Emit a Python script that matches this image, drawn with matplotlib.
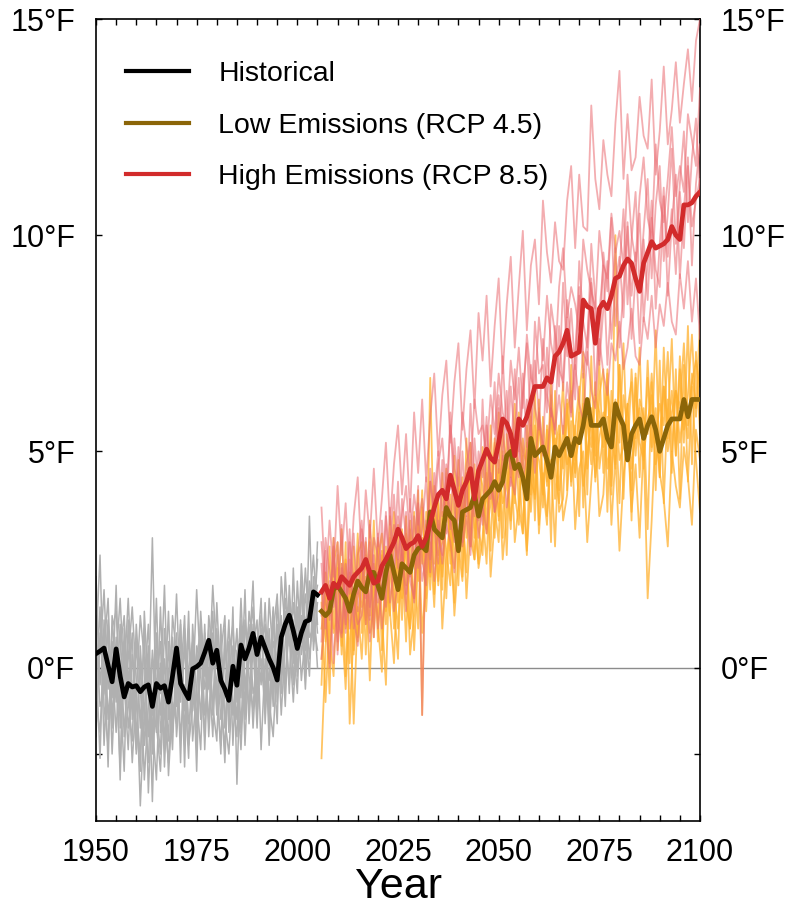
import numpy as np
import matplotlib
matplotlib.use("Agg")
import matplotlib.pyplot as plt
from matplotlib.ticker import MultipleLocator

plt.rcParams['font.family'] = ['Liberation Sans', 'DejaVu Sans']

hist_start = 1950
fut_start = 2006

# Observed/historical ensemble mean (1950-2005), deg F anomaly
historical = [
    0.32, 0.38, 0.45, 0.05, -0.33, 0.43, -0.20, -0.68, -0.37, -0.45,
    -0.42, -0.56, -0.45, -0.40, -0.90, -0.37, -0.48, -0.42, -0.80, -0.20,
    0.45, -0.37, -0.55, -0.72, -0.03, 0.02, 0.10, 0.35, 0.63, 0.10,
    0.40, -0.30, -0.50, -0.76, 0.03, -0.41, 0.52, 0.20, 0.45, 0.79,
    0.30, 0.70, 0.45, 0.20, 0.00, -0.29, 0.70, 1.00, 1.21, 0.85,
    0.44, 0.80, 1.06, 1.10, 1.75, 1.68]

# RCP4.5 ensemble mean (2006-2100)
rcp45_mean = [
    1.30, 1.20, 1.30, 1.80, 1.90, 1.75, 1.60, 1.30, 1.70, 2.00,
    1.85, 1.75, 2.20, 2.20, 1.90, 1.60, 2.20, 2.60, 2.20, 1.80,
    2.40, 2.30, 2.20, 2.60, 2.75, 2.80, 2.70, 3.60, 3.20, 3.10,
    3.00, 3.70, 3.50, 3.40, 2.70, 3.60, 3.65, 3.70, 4.00, 3.50,
    3.90, 4.00, 4.10, 4.30, 4.10, 4.30, 4.90, 5.00, 4.60, 4.70,
    4.40, 3.90, 5.30, 4.90, 5.00, 5.10, 4.80, 4.40, 5.10, 4.90,
    5.10, 5.30, 4.90, 5.30, 5.20, 5.60, 6.20, 5.60, 5.60, 5.60,
    5.75, 5.30, 5.10, 6.10, 5.80, 5.60, 4.80, 5.40, 5.60, 5.75,
    5.30, 5.60, 5.80, 5.50, 5.00, 5.30, 5.60, 5.75, 5.75, 5.75,
    6.20, 5.80, 6.20, 6.20, 6.20]

# RCP8.5 ensemble mean (2006-2100)
rcp85_mean = [
    1.75, 1.90, 1.60, 1.95, 1.85, 2.10, 2.00, 1.90, 2.10, 2.20,
    2.30, 2.50, 2.20, 1.95, 2.00, 2.35, 2.50, 2.70, 2.90, 3.20,
    3.00, 2.75, 2.85, 2.90, 3.05, 2.80, 3.00, 3.35, 3.70, 4.00,
    4.10, 3.90, 4.45, 4.10, 3.75, 4.10, 4.30, 4.60, 3.90, 4.55,
    4.80, 5.05, 4.85, 4.75, 5.20, 5.75, 5.65, 5.40, 4.90, 5.75,
    5.60, 5.80, 6.15, 6.50, 6.50, 6.50, 6.70, 6.60, 7.20, 7.30,
    7.50, 7.80, 7.20, 7.25, 7.30, 8.50, 8.35, 8.30, 7.50, 8.30,
    8.45, 8.30, 8.60, 9.00, 9.05, 9.30, 9.45, 9.35, 9.00, 8.70,
    9.35, 9.60, 9.85, 9.70, 9.75, 9.80, 9.90, 10.20, 10.00, 9.90,
    10.70, 10.70, 10.75, 10.90, 11.00]

# Individual historical model runs (1950-2005)
hist_members = [
    [1.2, 0.3, 1.8, -0.5, 0.6, -0.8, 1.0, -1.6, 0.2, 1.4,
     -0.3, -3.2, -1.0, 0.5, -2.0, 0.8, -0.6, 1.9, -1.2, 0.4,
     -0.9, 1.1, -1.8, 0.0, 0.6, -1.4, 1.3, -0.2, 0.9, -1.1,
     1.5, -0.4, -2.2, 0.3, 1.0, -0.8, 1.6, -0.5, 0.2, 2.0,
     -0.9, 1.2, 0.4, -1.3, 0.8, 1.7, -0.6, 2.2, 0.5, 1.1,
     -0.2, 2.4, 0.9, 1.8, 0.6, 2.9],
    [-0.8, -1.5, 0.4, 1.6, -1.1, -0.2, -2.3, 0.5, -1.4, -0.6,
     -1.9, 0.2, -2.6, -0.9, 3.0, -1.3, -2.4, -0.3, -1.7, 1.2,
     0.3, -1.6, -0.4, -2.1, 1.0, -0.7, -1.9, 0.8, -0.5, 1.3,
     -0.9, 0.6, -1.2, -2.0, -0.3, 0.9, -1.5, 1.1, -0.2, -1.0,
     0.7, -0.4, 1.5, -0.8, -1.6, 0.3, 1.2, -0.5, 1.9, 0.1,
     1.4, -0.3, 0.8, 2.0, 1.1, 0.4],
    [0.5, 2.6, -0.9, -1.8, 0.9, 1.3, -0.5, -2.4, 1.1, -1.2,
     0.6, -1.4, 0.9, -2.9, -0.6, -1.5, 1.4, -1.1, -2.2, -0.4,
     1.7, -0.8, 0.5, -1.3, -0.6, 1.8, -0.2, -1.6, 1.2, 0.3,
     -0.6, -1.8, 0.9, -1.2, 1.4, -2.7, 0.4, -0.9, 1.3, 0.6,
     -1.4, 0.9, -0.7, 1.6, 0.2, -1.3, 2.1, 0.8, -0.4, 1.5,
     0.6, 1.2, -0.5, 1.4, 2.6, 1.0],
    [-1.6, 0.8, -0.3, 0.9, -2.0, 0.2, 1.6, -0.4, -1.9, 0.3,
     -0.8, -2.1, -0.4, 1.0, -1.3, -2.6, 0.1, -1.8, 0.6, -1.5,
     -0.2, 0.7, -2.3, 0.9, -1.0, 0.3, 0.8, -1.1, -0.3, 1.9,
     0.2, -1.2, -0.6, 1.1, -1.8, 0.4, -0.7, 1.8, -1.3, 0.5,
     1.1, -1.9, 0.2, -0.3, 1.4, -0.8, 0.5, 1.3, -0.6, 2.3,
     -0.1, 0.9, 1.7, 0.2, 1.3, 1.9],
    [0.2, -2.1, 1.1, -1.2, 0.1, -1.5, 0.4, 1.2, -0.8, -1.7,
     1.0, -0.5, -1.8, 0.3, -3.1, 0.4, -1.1, 0.2, -2.5, -0.8,
     -1.3, 0.4, -1.0, 1.3, -1.7, -0.5, 1.1, -1.9, 0.5, -0.9,
     -1.7, 1.0, -1.4, 0.2, -0.9, -1.6, 1.1, -1.2, 0.8, -1.4,
     0.3, 1.6, -1.3, 0.7, -0.6, 1.0, -1.1, 0.6, 1.4, -0.4,
     2.0, 0.3, 1.0, -0.2, 2.1, 0.8],
    [2.1, -0.4, 0.7, -2.3, 1.2, -0.3, -1.1, 0.6, -0.1, -2.2,
     -0.6, 1.2, 0.2, -1.6, 0.4, -0.9, -2.0, 0.9, -0.4, -1.9,
     0.8, -2.2, 0.9, -0.6, 0.3, -1.9, 0.6, 0.2, -1.3, 0.8,
     -1.1, 0.3, 1.2, -1.5, 0.5, -0.4, -1.9, 0.3, 1.0, -0.6,
     -0.2, 0.5, 1.0, -1.8, 0.6, 0.2, -0.4, 1.6, 0.7, -0.8,
     1.0, 1.7, -0.2, 3.5, 0.4, 1.5],
    [-0.5, 1.4, -1.8, 0.3, -0.7, 1.9, -1.4, -0.2, 1.6, -0.5,
     -1.3, -2.4, 1.3, -0.6, -1.1, 1.6, -1.5, -0.7, 1.3, -1.2,
     -0.5, 1.0, -1.4, -0.3, 0.4, -2.4, 1.0, -0.5, 0.0, -1.6,
     0.9, -0.7, -1.9, 0.6, -1.1, 0.2, 0.9, -1.8, 0.4, 1.4,
     -0.4, 0.2, -1.0, 0.9, -0.9, 1.5, 0.1, -0.4, 1.0, 0.5,
     -0.6, 2.0, 0.4, 1.1, 1.6, 0.0],
    [0.9, -0.9, -0.6, 1.1, -1.4, 0.7, -2.6, 0.9, -0.6, 0.8,
     -2.0, 0.5, -1.2, -2.2, 0.2, -0.4, 0.6, -2.3, -0.1, 0.7,
     -1.6, -0.3, 1.2, -1.8, -0.9, 0.5, -1.2, 1.0, -1.6, 0.2,
     -0.3, -2.0, 0.5, -0.7, 0.2, -1.2, 0.3, -0.2, -0.9, 1.0,
     -1.1, 0.7, 0.5, -1.0, 1.3, -0.5, 0.8, -0.9, 1.6, 0.9,
     0.3, 0.6, 2.3, 0.7, 0.9, 2.5],
]

# Individual RCP4.5 model runs (2006-2100)
rcp45_members = [
    [-2.1, 0.4, 2.8, 0.9, 2.6, 0.3, 2.9, -1.3, 1.0, 3.1,
     0.8, 2.9, 1.2, 3.4, 0.6, 2.7, 1.0, 3.5, 1.4, 0.2,
     3.2, 1.5, 0.9, 3.6, 2.0, 4.1, 1.6, 6.7, 2.4, 3.9,
     1.8, 4.6, 2.7, 4.9, 1.9, 4.4, 3.0, 5.2, 3.3, 2.4,
     5.1, 3.2, 5.6, 3.6, 5.9, 3.0, 5.4, 4.4, 6.1, 3.7,
     3.1, 5.2, 4.0, 6.4, 3.3, 5.8, 4.2, 6.3, 3.9, 5.0,
     6.6, 4.1, 7.0, 4.4, 6.2, 7.3, 4.6, 6.0, 4.9, 7.1,
     4.5, 6.8, 4.0, 10.0, 5.2, 7.5, 4.8, 6.9, 5.3, 7.4,
     4.6, 6.7, 5.1, 7.8, 4.4, 6.5, 5.7, 7.6, 4.9, 6.9,
     5.2, 7.9, 4.7, 7.3, 5.4],
    [0.2, 1.9, -0.6, 2.7, 0.8, 2.4, -0.2, 2.1, 0.4, 2.6,
     2.9, 0.3, 2.6, 0.7, 3.0, 1.2, -0.4, 2.8, 0.9, 3.3,
     1.1, 3.5, 0.9, 1.9, 4.1, -1.1, 3.6, 1.8, 4.2, 2.0,
     4.5, 1.6, 4.0, 2.3, 4.8, 2.1, 5.3, 2.8, 4.7, 3.2,
     2.6, 4.9, 2.7, 5.3, 3.4, 5.0, 2.6, 5.5, 3.8, 5.9,
     4.2, 2.6, 5.8, 3.4, 6.2, 3.7, 5.5, 2.9, 6.4, 3.6,
     3.9, 6.1, 4.2, 5.6, 3.5, 6.8, 4.0, 7.2, 4.3, 6.3,
     6.9, 3.6, 6.4, 4.7, 7.0, 3.9, 6.1, 3.4, 6.8, 4.4,
     6.0, 3.2, 6.6, 4.1, 7.1, 3.8, 6.2, 4.5, 6.9, 3.9,
     7.0, 4.3, 6.5, 4.8, 3.6],
    [1.5, -0.8, 1.2, 3.0, 0.4, 1.8, 2.5, 0.1, 2.8, 0.7,
     2.3, 1.1, 3.4, 0.9, 2.5, 3.1, 1.3, 2.0, 3.6, 1.5,
     2.7, 0.6, 3.2, 2.6, 0.9, 3.7, 2.2, 4.3, 1.7, 3.3,
     2.1, 3.9, 2.9, 1.5, 4.4, 3.6, 2.2, 4.6, 3.0, 4.1,
     3.6, 2.4, 4.8, 3.7, 2.9, 5.6, 4.4, 3.2, 5.2, 4.7,
     3.1, 5.6, 4.3, 4.0, 6.0, 4.2, 3.3, 5.9, 4.6, 3.8,
     5.0, 6.2, 4.3, 5.5, 6.5, 3.7, 5.8, 5.1, 6.6, 4.6,
     5.4, 6.9, 4.2, 5.9, 3.8, 6.3, 5.5, 4.1, 6.7, 5.2,
     4.8, 7.1, 5.0, 6.0, 4.4, 7.4, 5.3, 6.4, 4.9, 7.2,
     5.5, 6.3, 7.7, 5.8, 7.0],
    [-0.4, 2.2, 0.7, -0.2, 2.3, 1.1, -0.5, 1.9, -1.3, 1.4,
     0.2, 2.1, -0.3, 2.4, 1.0, -0.1, 2.8, 1.3, 0.1, 2.5,
     1.6, 2.9, 0.3, 1.2, 3.3, 0.8, 2.0, 2.9, 1.4, 3.8,
     0.9, 2.5, 3.4, 1.2, 2.6, 4.0, 1.6, 3.2, 4.3, 2.3,
     3.0, 4.5, 2.1, 3.4, 4.6, 2.5, 3.6, 5.1, 2.9, 3.8,
     4.9, 2.7, 4.2, 5.6, 3.1, 4.5, 3.5, 4.8, 2.8, 5.4,
     3.4, 4.0, 5.7, 3.2, 4.6, 5.0, 2.9, 4.3, 5.6, 3.5,
     4.0, 5.8, 3.3, 4.9, 2.7, 4.4, 5.5, 3.6, 4.7, 3.0,
     5.2, 1.6, 3.4, 5.6, 4.5, 3.9, 2.8, 5.0, 4.2, 3.7,
     5.1, 4.4, 3.3, 5.5, 4.8],
    [0.9, 1.6, 0.1, 2.4, 2.9, 0.5, 1.4, 2.2, 0.3, 1.8,
     1.4, 2.6, 0.8, 1.7, 2.9, 0.4, 2.3, 3.0, 1.8, 0.9,
     2.9, 1.9, 3.4, 0.4, 2.5, 3.0, 1.3, 3.1, 3.5, 1.9,
     3.6, 2.7, 1.9, 3.9, 2.8, 2.0, 4.5, 3.0, 2.5, 4.6,
     4.2, 3.1, 3.8, 5.2, 3.5, 4.6, 4.9, 3.4, 4.5, 5.4,
     5.0, 4.7, 6.1, 3.9, 5.5, 5.2, 4.3, 6.6, 5.0, 5.6,
     4.6, 5.9, 6.4, 4.8, 5.3, 6.1, 5.7, 4.7, 6.3, 5.9,
     5.1, 6.5, 5.6, 4.6, 7.0, 5.4, 6.0, 6.6, 4.9, 6.2,
     5.8, 5.4, 6.8, 5.2, 6.1, 5.6, 7.3, 5.0, 6.4, 6.0,
     7.5, 5.6, 6.6, 7.1, 6.5],
    [1.8, 0.6, 1.9, 0.8, 1.3, 3.2, 0.9, 1.5, 2.2, 0.6,
     2.4, 1.0, 2.7, 1.9, 1.1, 2.6, 2.4, 1.2, 3.0, 2.3,
     1.8, 3.1, 2.5, 1.6, 3.4, 2.4, 3.3, 2.1, 3.9, 2.6,
     2.9, 4.2, 2.4, 3.3, 3.7, 2.8, 4.1, 3.6, 2.5, 4.3,
     3.5, 3.9, 4.4, 3.0, 4.8, 3.8, 4.2, 5.0, 4.0, 3.3,
     5.3, 4.5, 3.6, 5.1, 4.8, 4.0, 5.6, 4.4, 5.3, 4.1,
     5.6, 4.7, 5.2, 4.5, 5.9, 4.2, 5.0, 5.7, 4.4, 5.3,
     5.9, 4.6, 5.4, 6.2, 4.8, 5.1, 6.1, 4.6, 5.5, 6.0,
     4.9, 5.7, 6.3, 4.7, 5.4, 6.5, 5.0, 5.9, 6.4, 5.2,
     6.1, 5.3, 6.8, 6.0, 8.0],
]

# Individual RCP8.5 model runs (2006-2100)
rcp85_members = [
    [3.7, 1.8, 3.4, 2.1, 4.2, 2.6, 3.8, 1.9, 3.5, 4.4,
     2.4, 4.1, 3.0, 4.6, 2.8, 3.9, 5.2, 3.3, 4.7, 5.6,
     4.0, 5.4, 3.6, 5.9, 4.5, 6.2, 4.3, 5.8, 6.8, 4.9,
     6.3, 7.1, 5.2, 6.6, 7.5, 5.5, 6.9, 7.8, 6.0, 8.2,
     7.1, 8.6, 6.5, 7.9, 9.0, 6.8, 8.4, 9.5, 7.4, 8.8,
     10.1, 7.8, 9.3, 9.9, 8.4, 10.8, 9.6, 8.9, 10.3, 9.4,
     9.2, 10.8, 11.6, 9.7, 11.4, 10.2, 10.1, 13.0, 11.3, 10.6,
     12.2, 11.4, 10.9, 12.6, 13.8, 11.3, 12.8, 11.5, 11.8, 13.2,
     12.3, 12.0, 13.6, 11.4, 12.4, 13.9, 12.1, 12.9, 14.0, 12.6,
     13.5, 14.3, 13.1, 14.5, 15.0],
    [0.6, 2.7, 1.1, 3.0, 0.3, 2.4, 1.5, 3.2, 0.9, 2.6,
     3.4, 1.6, 2.9, 0.7, 3.1, 2.2, 1.4, 3.7, 2.0, 3.5,
     2.6, 1.3, 3.9, 2.4, 4.2, -1.1, 3.4, 2.2, 4.5, 3.0,
     2.6, 4.7, 3.4, 2.9, 5.1, 3.6, 4.3, 2.8, 5.3, 4.0,
     3.3, 5.6, 4.4, 3.6, 6.0, 4.8, 6.4, 4.2, 5.5, 6.7,
     4.6, 6.2, 5.3, 7.1, 5.8, 4.9, 7.4, 6.0, 5.4, 7.9,
     6.4, 8.1, 5.9, 7.3, 8.6, 6.7, 7.6, 9.0, 6.3, 8.2,
     9.3, 7.0, 8.5, 9.7, 7.4, 8.8, 10.2, 7.6, 9.1, 10.5,
     8.0, 9.4, 10.8, 8.3, 9.8, 11.1, 8.6, 10.3, 11.4, 9.0,
     10.6, 11.8, 9.3, 11.2, 12.1],
    [2.4, 0.9, 2.0, 0.1, 1.6, 3.3, 0.8, 2.5, 1.2, 0.5,
     1.9, 3.0, 1.1, 2.6, 0.9, 1.8, 3.6, 1.5, 2.3, 4.3,
     2.1, 3.6, 2.0, 1.6, 3.8, 2.5, 1.9, 4.6, 3.2, 2.4,
     4.8, 3.1, 5.9, 3.7, 2.7, 5.0, 3.5, 6.1, 4.2, 3.4,
     6.2, 4.0, 5.1, 6.6, 4.5, 7.2, 5.3, 4.6, 6.9, 5.0,
     6.3, 7.5, 5.6, 8.0, 6.8, 7.0, 5.9, 8.4, 7.7, 6.5,
     8.9, 7.2, 8.3, 6.9, 9.4, 8.0, 7.4, 9.8, 8.5, 7.1,
     9.6, 8.7, 10.4, 7.9, 9.2, 10.6, 8.4, 9.9, 11.0, 8.8,
     10.1, 11.3, 9.0, 10.7, 11.6, 9.4, 10.5, 12.0, 9.8, 11.2,
     12.4, 10.3, 11.8, 12.7, 11.0],
    [1.2, 3.0, 2.2, 1.4, 2.9, 0.8, 2.4, 1.7, 3.1, 1.3,
     2.7, 1.0, 3.3, 2.2, 1.5, 3.4, 1.9, 2.8, 4.0, 2.3,
     3.9, 3.0, 2.1, 3.5, 2.3, 3.2, 4.4, 2.5, 3.9, 5.0,
     3.5, 4.4, 3.2, 5.3, 4.0, 2.9, 4.7, 5.2, 3.5, 5.0,
     4.4, 5.8, 3.9, 5.1, 6.3, 5.4, 4.6, 6.5, 5.2, 4.4,
     6.8, 5.1, 7.0, 6.0, 5.5, 7.6, 6.3, 5.8, 7.9, 6.9,
     6.6, 8.5, 7.4, 6.2, 8.8, 7.3, 7.0, 8.9, 8.1, 7.0,
     8.3, 9.4, 7.6, 8.9, 9.5, 8.1, 10.3, 8.6, 9.6, 7.5,
     9.9, 8.5, 10.4, 9.2, 8.8, 10.9, 9.5, 10.6, 9.1, 11.0,
     9.7, 11.6, 10.2, 10.8, 11.3],
    [0.2, 1.3, 0.0, 1.9, 1.1, 0.7, 2.0, 0.9, 1.6, 1.0,
     1.2, 2.0, 0.6, 1.5, 2.2, 0.9, 1.8, 2.6, 1.3, 2.0,
     2.8, 1.7, 2.4, 1.5, 3.1, 2.0, 2.6, 3.3, 2.0, 3.4,
     2.4, 3.3, 2.9, 2.2, 3.7, 2.8, 3.5, 2.6, 4.2, 3.0,
     3.8, 3.1, 4.5, 3.6, 4.0, 4.9, 3.7, 4.4, 4.0, 5.2,
     4.3, 5.0, 5.6, 4.5, 5.9, 5.2, 4.8, 6.0, 5.5, 6.3,
     5.4, 6.6, 5.8, 7.0, 6.1, 5.7, 7.3, 6.4, 6.0, 7.6,
     6.8, 6.3, 7.5, 7.1, 8.0, 6.9, 7.4, 8.3, 7.2, 7.0,
     8.1, 7.6, 8.6, 7.4, 8.4, 7.9, 8.9, 8.0, 7.7, 9.1,
     8.3, 9.4, 8.0, 9.0, 7.6],
    [2.9, 1.5, 1.2, 2.8, 0.6, 2.3, 1.0, 2.9, 2.0, 1.7,
     3.2, 2.5, 1.4, 3.0, 2.6, 1.6, 3.5, 2.4, 3.3, 2.5,
     3.5, 4.2, 2.9, 4.0, 3.3, 3.9, 2.8, 4.3, 3.5, 4.7,
     5.3, 4.0, 5.6, 4.6, 4.2, 5.9, 5.1, 4.5, 6.2, 5.4,
     5.6, 4.9, 6.3, 5.4, 6.8, 5.9, 5.5, 7.1, 6.2, 7.4,
     6.0, 7.7, 6.7, 6.4, 8.1, 7.1, 8.6, 7.5, 7.0, 8.8,
     9.7, 8.1, 8.8, 8.4, 7.8, 9.9, 9.2, 8.7, 8.3, 10.1,
     9.3, 9.0, 10.5, 9.6, 10.1, 9.3, 11.4, 10.0, 9.4, 10.9,
     11.8, 10.4, 9.9, 12.1, 10.8, 10.3, 11.3, 12.5, 10.9, 11.6,
     11.0, 12.8, 12.2, 11.6, 13.4],
]

series_labels = ["Historical", "Low Emissions (RCP 4.5)", "High Emissions (RCP 8.5)"]
x_ticks = [1950, 1975, 2000, 2025, 2050, 2075, 2100]
y_ticks = [-2, 0, 5, 10, 15]
y_ticklabels = ["", "0°F", "5°F", "10°F", "15°F"]

W, H = 788, 905
fig = plt.figure(figsize=(W / 100, H / 100), dpi=100)
ax = fig.add_axes([96 / W, 1 - 821 / H, (700 - 96) / W, (821 - 19) / H])

def yrs(start, vals):
    return start + np.arange(len(vals))

ax.axhline(0, color="#8c8c8c", lw=1.0, zorder=1)

for m in hist_members:
    ax.plot(yrs(hist_start, m), m, color="#b0b0b0", lw=1.1, zorder=2)
for m in rcp45_members:
    ax.plot(yrs(fut_start, m), m, color="#ffb02e", lw=1.3, alpha=0.75, zorder=2)
for m in rcp85_members:
    ax.plot(yrs(fut_start, m), m, color="#ea6a70", lw=1.3, alpha=0.55, zorder=3)

h1, = ax.plot(yrs(hist_start, historical), historical, color="black", lw=3.4,
              zorder=5, label=series_labels[0])
h2, = ax.plot(yrs(fut_start, rcp45_mean), rcp45_mean, color="#8b6508", lw=3.4,
              zorder=5, label=series_labels[1])
h3, = ax.plot(yrs(fut_start, rcp85_mean), rcp85_mean, color="#d22b2b", lw=3.4,
              zorder=6, label=series_labels[2])

ax.set_xlim(1950, 2100)
ax.set_ylim(-3.55, 15)
ax.set_xticks(x_ticks)
ax.xaxis.set_minor_locator(MultipleLocator(5))
ax.set_yticks(y_ticks)
ax.set_yticklabels(y_ticklabels)

ax.tick_params(axis="both", which="both", direction="in", top=True, right=True,
               length=4.5, width=1.0, labelsize=22)
ax.tick_params(axis="y", which="both", labelright=True, pad=15)
ax.tick_params(axis="x", which="both", pad=12.5)
for s in ax.spines.values():
    s.set_linewidth(1.2)

ax.set_xlabel("Year", fontsize=31, labelpad=-1)

leg = ax.legend(handles=[h1, h2, h3], loc="upper left", frameon=False,
                fontsize=20.5, handlelength=2.2, handletextpad=1.05,
                labelspacing=0.9, bbox_to_anchor=(0.0, 0.985), borderaxespad=0.65)
for line in leg.get_lines():
    line.set_linewidth(3.0)

fig.savefig("out.png", dpi=100)
